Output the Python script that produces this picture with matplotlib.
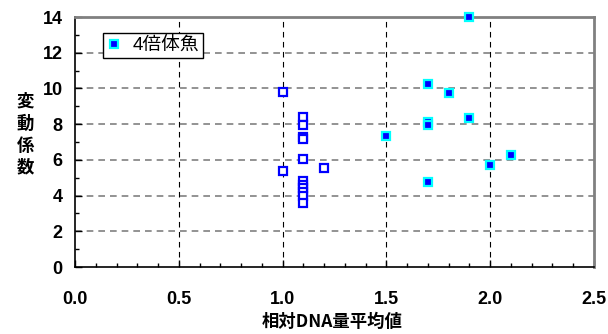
import matplotlib
matplotlib.use("Agg")
import matplotlib.pyplot as plt
from matplotlib.ticker import MultipleLocator

plt.rcParams['font.family'] = ['Liberation Sans', 'Noto Sans CJK JP', 'DejaVu Sans']

# diploid-like group (open squares, not in legend)
open_x = [1.0, 1.0, 1.1, 1.1, 1.1, 1.1, 1.1, 1.1, 1.1, 1.1, 1.1, 1.1, 1.1, 1.2]
open_y = [9.8, 5.35, 8.4, 7.95, 7.3, 7.15, 6.05, 4.8, 4.6, 4.4, 4.2, 4.0, 3.6, 5.55]

# tetraploid fish (filled squares)
tet_label = "4倍体魚"
tet_x = [1.9, 1.7, 1.8, 1.9, 1.7, 1.7, 1.5, 2.1, 2.0, 1.7]
tet_y = [14.0, 10.25, 9.75, 8.35, 8.1, 7.95, 7.35, 6.3, 5.7, 4.75]

xlabel = "相対DNA量平均値"
ylabel = "変\n動\n係\n数"
x_ticks = [0.0, 0.5, 1.0, 1.5, 2.0, 2.5]
y_ticks = [0, 2, 4, 6, 8, 10, 12, 14]

fig = plt.figure(figsize=(6.08, 3.34), dpi=100)
ax = fig.add_axes([75/608, 1-267/334, (594-75)/608, (267-17)/334])
ax.set_xlim(0, 2.5)
ax.set_ylim(0, 14)

# grid lines
for gx in x_ticks[1:-1]:
    ax.axvline(gx, color='black', lw=0.8, ls=(0, (5, 4)), zorder=1)
for gy in y_ticks[1:-1]:
    ax.axhline(gy, color='#808080', lw=1.2, ls=(0, (4, 3)), zorder=1)

ax.plot(open_x, open_y, ls='none', marker='s', ms=5.3, mew=1.6,
        mec='#0000FF', mfc='white', zorder=3)
ax.plot(tet_x, tet_y, ls='none', marker='s', ms=5.6, mew=1.6,
        mec='#00FFFF', mfc='#0000FF', zorder=4, label=tet_label, clip_on=False)

for s in ['left', 'bottom']:
    ax.spines[s].set_color('black')
    ax.spines[s].set_linewidth(1.2)
for s in ['top', 'right']:
    ax.spines[s].set_color('#808080')
    ax.spines[s].set_linewidth(2)

ax.set_xticks(x_ticks)
ax.set_yticks(y_ticks)
ax.xaxis.set_minor_locator(MultipleLocator(0.1))
ax.yaxis.set_minor_locator(MultipleLocator(1))
ax.set_xticklabels([f"{v:.1f}" for v in x_ticks])
ax.set_yticklabels([str(v) for v in y_ticks])
ax.tick_params(which='major', direction='in', length=5, width=1, top=False, right=False)
ax.tick_params(which='minor', direction='in', length=3, width=1, top=False, right=False)
ax.tick_params(axis='x', which='major', pad=17)
ax.tick_params(axis='y', which='major', pad=9)
for lab in ax.get_xticklabels() + ax.get_yticklabels():
    lab.set_fontsize(13)
    lab.set_fontweight('bold')

ax.set_xlabel(xlabel, fontsize=12.5, fontweight='bold',
              family=['Noto Sans CJK JP', 'DejaVu Sans'], va='center')
ax.xaxis.set_label_coords(0.495, -0.22)
ax.set_ylabel(ylabel, fontsize=12.5, fontweight='bold', rotation=0,
              family=['Noto Sans CJK JP', 'DejaVu Sans'], linespacing=1.3,
              va='center', ha='center')
ax.yaxis.set_label_coords(-0.096, 0.53)

leg = ax.legend(loc='upper left', bbox_to_anchor=((103-75)/519, (267-33)/250),
                borderaxespad=0, fancybox=False, framealpha=1, edgecolor='black',
                handlelength=0.8, handletextpad=0.6, borderpad=0.2,
                prop={'family': ['Liberation Sans', 'Noto Sans CJK JP'], 'size': 13.5})
leg.get_frame().set_linewidth(1.0)
leg.set_zorder(5)

fig.savefig('out.png', dpi=100)
